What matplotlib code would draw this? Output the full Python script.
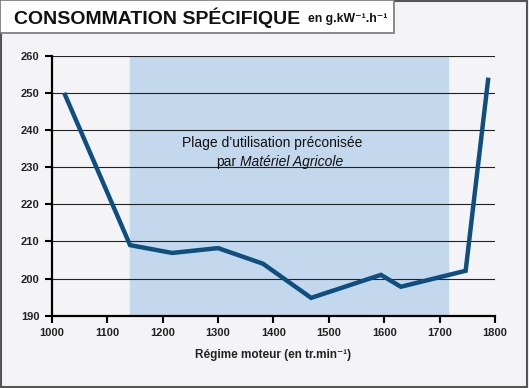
import matplotlib.pyplot as plt
from matplotlib.patches import Rectangle

# data
regime = [1022, 1141, 1217, 1300, 1381, 1468, 1594, 1630, 1747, 1788]
conso = [250, 209, 206.9, 208.2, 204, 194.8, 201, 197.8, 202.1, 254.1]
plage = [1140, 1715]
xticks = [1000, 1100, 1200, 1300, 1400, 1500, 1600, 1700, 1800]
yticks = [190, 200, 210, 220, 230, 240, 250, 260]

plt.rcParams['font.family'] = ['Liberation Sans', 'DejaVu Sans']

fig = plt.figure(figsize=(5.29, 3.88), dpi=100, facecolor='#f4f4f6')
# outer frame
fig.patches.append(Rectangle((0.002, 0.003), 0.995, 0.994, transform=fig.transFigure,
                             fill=False, edgecolor='#555555', linewidth=1.5))
# title box
fig.patches.append(Rectangle((0.0, 0.915), 0.745, 0.085, transform=fig.transFigure,
                             facecolor='white', edgecolor='#777777', linewidth=1.2))
fig.text(0.026, 0.955, 'CONSOMMATION SPÉCIFIQUE', fontsize=14, fontweight='bold',
         va='center', ha='left', color='#111111')
fig.text(0.583, 0.951, 'en g.kW\u207b\u00b9.h\u207b\u00b9', fontsize=8.8, fontweight='bold',
         va='center', ha='left', color='#111111')

ax = fig.add_axes([0.0983, 0.1863, 0.8374, 0.6701])
ax.set_facecolor('none')
ax.axvspan(plage[0], plage[1], color='#c3d8ec', zorder=0)
for y in yticks[1:]:
    ax.axhline(y, color='#222222', linewidth=0.8, zorder=1)
ax.plot(regime, conso, color='#0f4f80', linewidth=3.2, solid_capstyle='butt',
        solid_joinstyle='miter', zorder=3)

ax.set_xlim(1000, 1800)
ax.set_ylim(190, 260)
ax.set_xticks(xticks)
ax.set_yticks(yticks)
ax.tick_params(direction='out', length=5, width=1.5, labelsize=8, pad=4,
               labelcolor='#222222')
for lab in ax.get_xticklabels() + ax.get_yticklabels():
    lab.set_fontweight('bold')
for s in ['top', 'right']:
    ax.spines[s].set_visible(False)
for s in ['left', 'bottom']:
    ax.spines[s].set_linewidth(1.6)
ax.set_xlabel('Régime moteur (en tr.min\u207b\u00b9)', fontsize=8.5, fontweight='bold',
              labelpad=8, color='#222222')

ax.text(1397, 236.5, 'Plage d\u2019utilisation préconisée', fontsize=10,
        ha='center', va='center', color='#111111')
ax.text(1333, 231.4, 'par', fontsize=10, ha='right', va='center', color='#111111')
ax.text(1340, 231.4, 'Matériel Agricole', fontsize=10, fontstyle='italic',
        ha='left', va='center', color='#111111')

plt.savefig('out.png', dpi=100, facecolor=fig.get_facecolor())
